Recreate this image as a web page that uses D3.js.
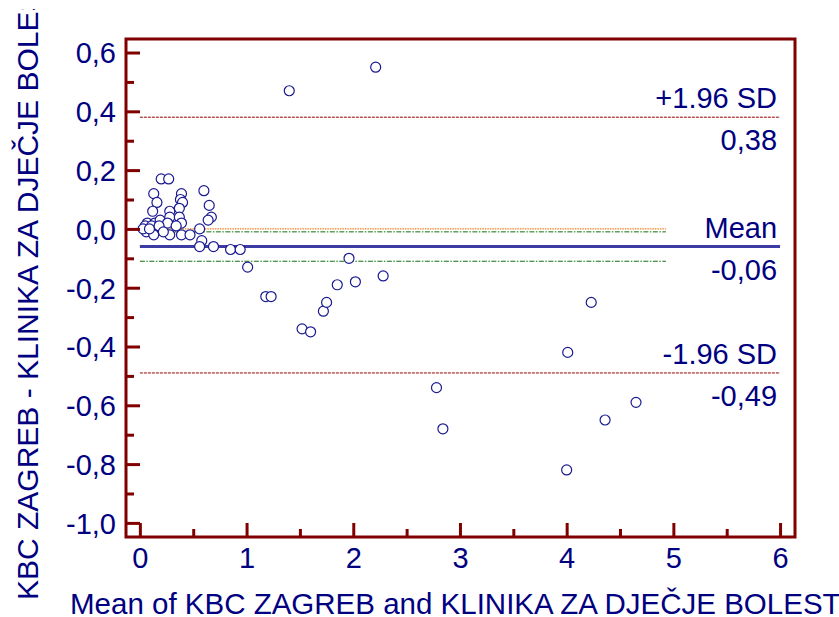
<!DOCTYPE html>
<html><head><meta charset="utf-8">
<script src="https://cdn.jsdelivr.net/npm/d3@7/dist/d3.min.js"></script>
<style>
html,body{margin:0;padding:0;background:#fff;overflow:hidden}
svg{display:block}
text{font-family:"Liberation Sans",Arial,sans-serif}
</style></head>
<body>
<svg id="c" width="839" height="617"></svg>
<script>
// ---- data ----
const meanX = [0.20,0.27,0.13,0.16,0.12,0.39,0.38,0.40,0.37,0.28,0.28,0.37,0.39,0.60,0.65,0.67,0.64,
  0.07,0.14,0.19,0.05,0.11,0.26,0.34,0.06,0.13,0.28,0.39,0.47,0.56,0.58,0.56,0.69,0.85,0.94,1.01,
  0.03,0.09,0.18,0.22,
  1.40,2.21,1.18,1.23,1.52,1.60,1.72,1.75,1.85,1.96,2.02,2.28,2.78,2.84,4.00,4.01,4.23,4.36,4.65];
const diffY = [0.17,0.17,0.12,0.09,0.06,0.12,0.10,0.09,0.07,0.06,0.04,0.04,0.02,0.13,0.08,0.04,0.03,
  0.02,0.02,0.03,0.01,0.01,0.02,0.01,-0.01,-0.02,-0.02,-0.02,-0.02,0.00,-0.04,-0.06,-0.06,-0.07,-0.07,-0.13,
  0.00,0.00,0.01,-0.01,
  0.47,0.55,-0.23,-0.23,-0.34,-0.35,-0.28,-0.25,-0.19,-0.10,-0.18,-0.16,-0.54,-0.68,-0.82,-0.42,-0.25,-0.65,-0.59];
const meanDiff = -0.06;
const upperLoA = 0.38;
const lowerLoA = -0.49;
const ciUpper = -0.01;
const ciLower = -0.11;
const zeroLine = 0;
const refLineEnd = 4.93;
const xTicks = [0,1,2,3,4,5,6];
const xMinor = [0.5,1.5,2.5,3.5,4.5,5.5];
const yTicks = [-1.0,-0.8,-0.6,-0.4,-0.2,0.0,0.2,0.4,0.6];
const yMinor = [-0.9,-0.7,-0.5,-0.3,-0.1,0.1,0.3,0.5];
const xTitle = "Mean of KBC ZAGREB and KLINIKA ZA DJEČJE BOLESTI";
const yTitle = "KBC ZAGREB - KLINIKA ZA DJEČJE BOLESTI";

// ---- drawing ----
const L=126, R=795, T=39, B=537;
const navy="#000080", maroon="#800000";
const x = d3.scaleLinear().domain([-0.13,6.14]).range([L,R]);
const y = d3.scaleLinear().domain([-1.048,0.646]).range([B,T]);
const loc = d3.formatLocale({decimal:",",thousands:".",grouping:[3],currency:["",""],minus:"-"});
const f1 = loc.format(".1f"), f2 = loc.format(".2f");
const svg = d3.select("#c");

svg.append("defs").append("clipPath").attr("id","ytclip")
  .append("rect").attr("x",0).attr("y",9).attr("width",80).attr("height",608);

// reference lines
const g = svg.append("g");
function hline(v, x0, x1, color, w, dash){
  g.append("line").attr("x1",x(x0)).attr("x2",x(x1)).attr("y1",y(v)).attr("y2",y(v))
   .attr("stroke",color).attr("stroke-width",w).attr("stroke-dasharray",dash||null);
}
hline(upperLoA,0,6,"#990000",1,"3,1");
hline(lowerLoA,0,6,"#990000",1,"3,1");
hline(zeroLine,0,refLineEnd,"#f08020",1.3,"1.5,1");
hline(ciUpper,0,refLineEnd,"#107010",1,"5,1.5,1.5,1.5");
hline(ciLower,0,refLineEnd,"#107010",1,"5,1.5,1.5,1.5");
hline(meanDiff,0,6,"#3c3ca4",3);

// points
svg.append("g").selectAll("circle").data(meanX.map((d,i)=>[d,diffY[i]])).join("circle")
  .attr("cx",d=>x(d[0])).attr("cy",d=>y(d[1])).attr("r",5)
  .attr("fill","#fff").attr("stroke","#1a1a90").attr("stroke-width",1.2);

// axes
const ax = svg.append("g").attr("transform",`translate(0,${B})`)
  .call(d3.axisBottom(x).tickValues(xTicks).tickFormat(d3.format("d")).tickSizeInner(-14).tickSizeOuter(0).tickPadding(10));
const axm = svg.append("g").attr("transform",`translate(0,${B})`)
  .call(d3.axisBottom(x).tickValues(xMinor).tickFormat("").tickSizeInner(-8).tickSizeOuter(0));
const ay = svg.append("g").attr("transform",`translate(${L},0)`)
  .call(d3.axisLeft(y).tickValues(yTicks).tickFormat(f1).tickSizeInner(-14).tickSizeOuter(0).tickPadding(10));
const aym = svg.append("g").attr("transform",`translate(${L},0)`)
  .call(d3.axisLeft(y).tickValues(yMinor).tickFormat("").tickSizeInner(-8).tickSizeOuter(0));
[ax,axm,ay,aym].forEach(a=>{
  a.select(".domain").remove();
  a.selectAll(".tick line").attr("stroke",maroon).attr("stroke-width",3);
  a.selectAll(".tick text").attr("fill",navy).style("font-size","29px").style("font-family",'"Liberation Sans",Arial,sans-serif');
});
ax.selectAll(".tick text").attr("dy",null).attr("y",31);
ay.selectAll(".tick text").attr("dy","0.36em");

// frame
svg.append("rect").attr("x",L).attr("y",T).attr("width",R-L).attr("height",B-T)
  .attr("fill","none").attr("stroke",maroon).attr("stroke-width",3);

// right labels
function rlab(txt, v, dy){
  svg.append("text").attr("x",x(6)-3).attr("y",y(v)+dy).attr("text-anchor","end")
    .attr("fill",navy).style("font-size","29px").text(txt);
}
rlab("+1.96 SD",upperLoA,-9); rlab(f2(upperLoA),upperLoA,33);
rlab("Mean",meanDiff,-9); rlab(f2(meanDiff),meanDiff,33);
rlab("-1.96 SD",lowerLoA,-9); rlab(f2(lowerLoA),lowerLoA,33);

// titles
svg.append("text").attr("x",70).attr("y",614).attr("fill",navy).style("font-size","29.5px").text(xTitle);
svg.append("g").attr("clip-path","url(#ytclip)")
  .append("text").attr("transform","translate(37.5,600) rotate(-90)").attr("fill",navy).style("font-size","30px").text(yTitle);
</script>
</body></html>
